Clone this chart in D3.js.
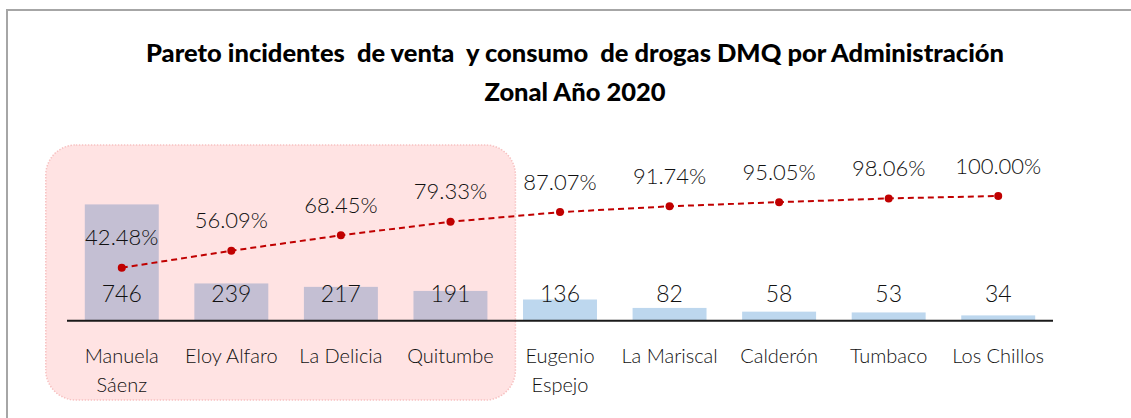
<!DOCTYPE html>
<html>
<head>
<meta charset="utf-8">
<script src="https://cdn.jsdelivr.net/npm/d3@7"></script>
<style>
  html, body { margin: 0; padding: 0; background: #fff; }
  svg { display: block; }
</style>
</head>
<body>
<svg id="chart"></svg>
<script>
(function() {

    // Chart data
    const categories = ['Manuela Sáenz', 'Eloy Alfaro', 'La Delicia', 'Quitumbe', 'Eugenio Espejo', 'La Mariscal', 'Calderón', 'Tumbaco', 'Los Chillos'];
    const incidents = [746, 239, 217, 191, 136, 82, 58, 53, 34];
    const cumulative = [42.48, 56.09, 68.45, 79.33, 87.07, 91.74, 95.05, 98.06, 100.00];
    const highlighted = ['Manuela Sáenz', 'Eloy Alfaro', 'La Delicia', 'Quitumbe'];
    const titleLines = ['Pareto incidentes  de venta  y consumo  de drogas DMQ por Administración', 'Zonal Año 2020'];

    const w = 1131;
    const h = 418;
    const textColor = '#111111';

    const svg = d3.select('#chart')
        .attr('width', w)
        .attr('height', h);

    // Frame lines (top + left)
    svg.append('path')
        .attr('d', `M7,${h} L7,10 L${w},10`)
        .attr('fill', 'none')
        .attr('stroke', '#a6a6a6')
        .attr('stroke-width', 2);

    // Title
    svg.append('text')
        .attr('x', 575)
        .attr('text-anchor', 'middle')
        .attr('font-family', 'Lato')
        .attr('font-weight', 900)
        .attr('font-size', 25.5)
        .attr('fill', '#000')
        .style('white-space', 'pre')
        .selectAll('tspan')
        .data(titleLines)
        .enter()
        .append('tspan')
        .attr('x', 575)
        .attr('y', (d, i) => 62 + i * 39)
        .text(d => d);

    // Scales
    const x = d3.scaleBand()
        .domain(categories)
        .range([67, 1053])
        .paddingInner(0.325)
        .paddingOuter(0.1625);

    const y = d3.scaleLinear()
        .domain([0, 800])
        .range([320.7, 196]);

    const yPct = d3.scaleLinear()
        .domain([0, 100])
        .range([320.7, 196]);

    // Bars
    svg.selectAll('.bar')
        .data(incidents)
        .enter()
        .append('rect')
        .attr('class', 'bar')
        .attr('x', (d, i) => x(categories[i]))
        .attr('y', d => y(d))
        .attr('width', x.bandwidth())
        .attr('height', d => y(0) - y(d))
        .attr('fill', '#bdd7ee');

    // Highlight box over the first categories
    const hlFirst = x(highlighted[0]);
    const hlLast = x(highlighted[highlighted.length - 1]) + x.bandwidth();
    svg.append('rect')
        .attr('x', hlFirst - 39)
        .attr('y', 145)
        .attr('width', hlLast - hlFirst + 67)
        .attr('height', 255)
        .attr('rx', 30)
        .attr('ry', 30)
        .attr('fill', '#ff0000')
        .attr('fill-opacity', 0.11)
        .attr('stroke', '#f7c2c2')
        .attr('stroke-width', 1.5)
        .attr('stroke-dasharray', '1.5 1.5');

    // Category axis line
    svg.append('line')
        .attr('x1', 67)
        .attr('x2', 1053)
        .attr('y1', y(0))
        .attr('y2', y(0))
        .attr('stroke', '#1a1a1a')
        .attr('stroke-width', 2);

    // Bar value labels (inside base)
    svg.selectAll('.bar-label')
        .data(incidents)
        .enter()
        .append('text')
        .attr('class', 'bar-label')
        .attr('x', (d, i) => x(categories[i]) + x.bandwidth() / 2)
        .attr('y', y(0) - 18.5)
        .attr('text-anchor', 'middle')
        .attr('font-family', 'Lato')
        .attr('font-weight', 300)
        .attr('font-size', 23)
        .attr('fill', textColor)
        .text(d => d);

    // Category labels, wrapped when wider than the band
    const catText = svg.selectAll('.cat-label')
        .data(categories)
        .enter()
        .append('text')
        .attr('class', 'cat-label')
        .attr('text-anchor', 'middle')
        .attr('font-family', 'Lato')
        .attr('font-weight', 300)
        .attr('font-size', 20)
        .attr('fill', textColor);

    catText.each(function(d) {
        const t = d3.select(this);
        const cx = x(d) + x.bandwidth() / 2;
        const probe = t.append('tspan').text(d);
        const tooWide = probe.node().getComputedTextLength() > 105;
        probe.remove();
        const lines = tooWide ? d.split(' ') : [d];
        lines.forEach((line, i) => {
            t.append('tspan')
                .attr('x', cx)
                .attr('y', 362.7 + i * 29.5)
                .text(line);
        });
    });

    // Cumulative line
    const line = d3.line()
        .x((d, i) => x(categories[i]) + x.bandwidth() / 2)
        .y(d => yPct(d));

    svg.append('path')
        .datum(cumulative)
        .attr('d', line)
        .attr('fill', 'none')
        .attr('stroke', '#c00000')
        .attr('stroke-width', 2)
        .attr('stroke-dasharray', '6 4');

    svg.selectAll('.point')
        .data(cumulative)
        .enter()
        .append('circle')
        .attr('class', 'point')
        .attr('cx', (d, i) => x(categories[i]) + x.bandwidth() / 2)
        .attr('cy', d => yPct(d))
        .attr('r', 4)
        .attr('fill', '#c00000');

    svg.selectAll('.pct-label')
        .data(cumulative)
        .enter()
        .append('text')
        .attr('class', 'pct-label')
        .attr('x', (d, i) => x(categories[i]) + x.bandwidth() / 2)
        .attr('y', d => yPct(d) - 22.5)
        .attr('text-anchor', 'middle')
        .attr('font-family', 'Lato')
        .attr('font-weight', 300)
        .attr('font-size', 22)
        .attr('fill', textColor)
        .text(d => d.toFixed(2) + '%');

})();
</script>
</body>
</html>
